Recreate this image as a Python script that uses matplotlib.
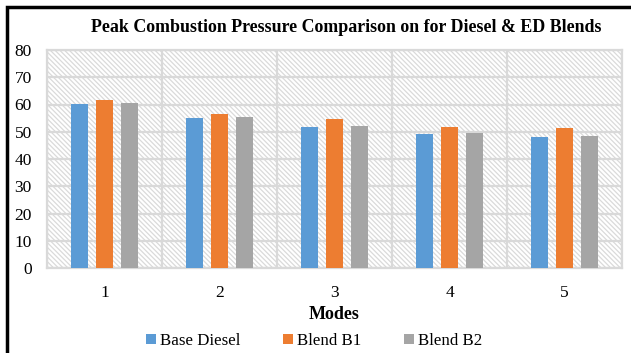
import numpy as np
import matplotlib.pyplot as plt
from matplotlib.patches import Rectangle

# 数据
modes = ['1', '2', '3', '4', '5']
base_diesel = [60.2, 55.1, 51.8, 49.1, 48.1]
blend_b1 = [61.7, 56.6, 54.5, 51.8, 51.4]
blend_b2 = [60.7, 55.4, 52.1, 49.6, 48.5]
series_names = ['Base Diesel', 'Blend B1', 'Blend B2']
colors = ['#5B9BD5', '#ED7D31', '#A5A5A5']

plt.rcParams['font.family'] = ['Liberation Serif', 'DejaVu Serif']
plt.rcParams['hatch.color'] = '#DADADA'
plt.rcParams['hatch.linewidth'] = 0.9

fig = plt.figure(figsize=(6.31, 3.53), dpi=100)
ax = fig.add_axes([47 / 631, 1 - 268 / 353, 575 / 631, 218 / 353])

# 背景斜线填充
ax.add_patch(Rectangle((0, 0), 1, 1, transform=ax.transAxes, facecolor='white',
                       hatch='\\' * 7, edgecolor='#DADADA', linewidth=0, zorder=0))

x = np.arange(len(modes))
width = 0.152
step = 0.218
for i, (vals, name) in enumerate(zip([base_diesel, blend_b1, blend_b2], series_names)):
    ax.bar(x + (i - 1) * step, vals, width, color=colors[i], label=name, zorder=3)

ax.set_xlim(-0.5, 4.5)
ax.set_ylim(0, 80)
ax.set_yticks(range(0, 81, 10))
ax.set_xticks(x)
ax.set_xticklabels(modes)
ax.set_xticks(np.arange(-0.5, 5, 1), minor=True)

# 网格线
ax.grid(axis='y', which='major', color='#D9D9D9', linewidth=1.6, zorder=1)
ax.grid(axis='x', which='minor', color='#D9D9D9', linewidth=1.6, zorder=1)
ax.set_axisbelow(True)
for s in ax.spines.values():
    s.set_color('#D9D9D9')
    s.set_linewidth(1.6)

ax.tick_params(which='both', length=0, labelsize=12.5, colors='black')
ax.tick_params(axis='x', pad=12)
ax.tick_params(axis='y', pad=11)

ax.set_xlabel('Modes', fontsize=13, fontweight='bold', labelpad=4)
fig.text(346 / 631, 1 - 28 / 353, 'Peak Combustion Pressure Comparison on for Diesel & ED Blends',
         ha='center', va='center', fontsize=12.9, fontweight='bold')

ax.legend(loc='center', bbox_to_anchor=(314 / 631, 1 - 341 / 353),
          bbox_transform=fig.transFigure, ncol=3, frameon=False, fontsize=12.2,
          handlelength=0.6, handleheight=0.6, handletextpad=0.25, columnspacing=2.5)

# 外框
fig.patches.append(Rectangle((7 / 631, -0.1), 1.2, 1 - 7 / 353 + 0.1, transform=fig.transFigure,
                             fill=False, edgecolor='black', linewidth=2.5))

fig.savefig('out.png', dpi=100)
